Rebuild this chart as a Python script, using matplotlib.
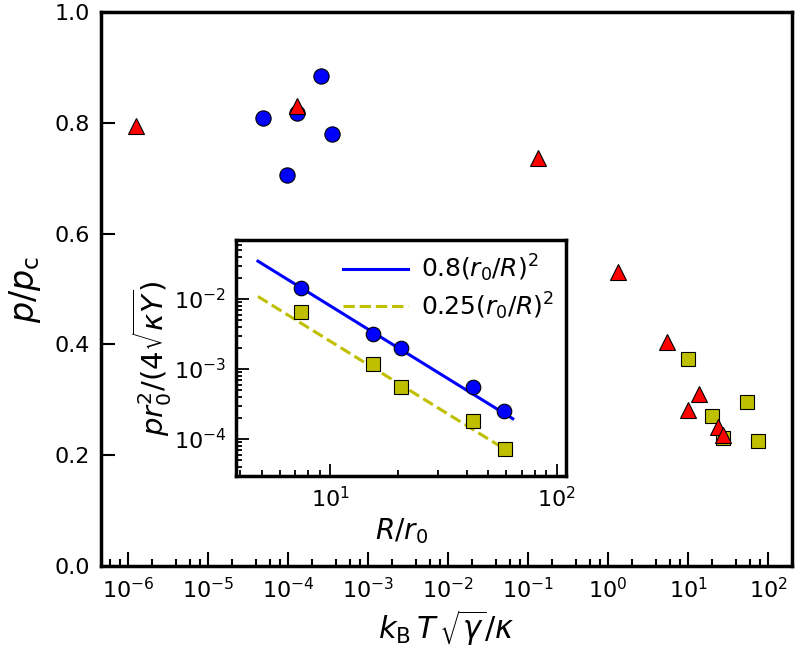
import matplotlib
matplotlib.use("Agg")
import matplotlib.pyplot as plt
import numpy as np
from matplotlib.ticker import LogLocator, NullFormatter

# main panel data
circ_x = [4.9e-5, 2.6e-4, 1.3e-4, 3.5e-4, 9.7e-5]
circ_y = [0.809, 0.884, 0.818, 0.780, 0.706]

sq_x = [10, 54.6, 20, 27.4, 75]
sq_y = [0.374, 0.296, 0.271, 0.231, 0.226]

tri_x = [1.26e-6, 1.3e-4, 0.133, 1.33, 5.5, 13.7, 10, 23.7, 27.4]
tri_y = [0.794, 0.830, 0.736, 0.531, 0.404, 0.310, 0.282, 0.251, 0.236]

x_major = [1e-6, 1e-5, 1e-4, 1e-3, 1e-2, 1e-1, 1e0, 1e1, 1e2]

# inset data
in_circ_x = [7.4, 15.4, 20.6, 42.6, 58.8]
in_circ_y = [1.42e-2, 3.13e-3, 2.0e-3, 5.5e-4, 2.5e-4]
in_sq_x = [7.4, 15.4, 20.6, 42.6, 59]
in_sq_y = [6.6e-3, 1.17e-3, 5.6e-4, 1.8e-4, 7.2e-5]
fit_R = [4.8, 64]
fit_coef = [0.8, 0.25]

fig = plt.figure(figsize=(7.96, 6.56), dpi=100)
ax = fig.add_axes([0.1269, 0.1372, 0.868, 0.8445])

ax.plot(circ_x, circ_y, "o", color="#0000ff", mec="k", mew=0.8, ms=11, ls="none")
ax.plot(sq_x, sq_y, "s", color="#bfbf00", mec="k", mew=0.8, ms=10.5, ls="none")
ax.plot(tri_x, tri_y, "^", color="#ff0000", mec="k", mew=0.8, ms=11, ls="none")

ax.set_xscale("log")
ax.set_xlim(10**-6.34, 10**2.3)
ax.set_ylim(0, 1.0)
ax.set_yticks([0.0, 0.2, 0.4, 0.6, 0.8, 1.0])
ax.set_yticklabels(["0.0", "0.2", "0.4", "0.6", "0.8", "1.0"])
ax.set_xticks(x_major)
ax.xaxis.set_minor_locator(LogLocator(base=10, subs=(2, 4, 6, 8), numticks=20))
ax.xaxis.set_minor_formatter(NullFormatter())
ax.tick_params(which="both", direction="in", top=False, right=False, width=1.5, labelsize=16)
ax.tick_params(which="major", length=10, pad=8)
ax.tick_params(which="minor", length=5)
for s in ax.spines.values():
    s.set_linewidth(2.5)
ax.set_xlabel(r"$k_\mathrm{B}\,T\,\sqrt{\gamma}/\kappa$", fontsize=22, labelpad=4)
ax.set_ylabel(r"$p/p_\mathrm{c}$", fontsize=24, labelpad=8)

# inset
ins = fig.add_axes([0.2965, 0.2744, 0.4146, 0.3598])
R = np.linspace(fit_R[0], fit_R[1], 50)
ins.plot(R, fit_coef[0] * R**-2.0, "-", color="#0000ff", lw=2.2,
         label=r"$0.8(r_0/R)^2$")
ins.plot(R, fit_coef[1] * R**-2.0, "--", color="#bfbf00", lw=2.2,
         label=r"$0.25(r_0/R)^2$")
ins.plot(in_circ_x, in_circ_y, "o", color="#0000ff", mec="k", mew=0.8, ms=10.5)
ins.plot(in_sq_x, in_sq_y, "s", color="#bfbf00", mec="k", mew=0.8, ms=9.5)
ins.set_xscale("log")
ins.set_yscale("log")
ins.set_xlim(3.84, 110)
ins.set_ylim(2.97e-5, 0.0697)
ins.set_yticks([1e-4, 1e-3, 1e-2])
ins.set_xticks([1e1, 1e2])
ins.yaxis.set_minor_locator(LogLocator(base=10, subs=np.arange(2, 10), numticks=10))
ins.yaxis.set_minor_formatter(NullFormatter())
ins.xaxis.set_minor_formatter(NullFormatter())
ins.tick_params(which="both", direction="in", top=False, right=False, width=1.3, labelsize=16)
ins.tick_params(which="major", length=9, pad=7)
ins.tick_params(which="minor", length=4.5)
for s in ins.spines.values():
    s.set_linewidth(2.5)
ins.set_xlabel(r"$R/r_0$", fontsize=20, labelpad=4)
ins.set_ylabel(r"$pr_0^2/(4\sqrt{\kappa Y})$", fontsize=21, labelpad=0)
ins.legend(loc="upper right", frameon=False, fontsize=18, handlelength=2.6,
           borderaxespad=0.1, labelspacing=0.25, handletextpad=0.5)

fig.savefig("out.png", dpi=100)
